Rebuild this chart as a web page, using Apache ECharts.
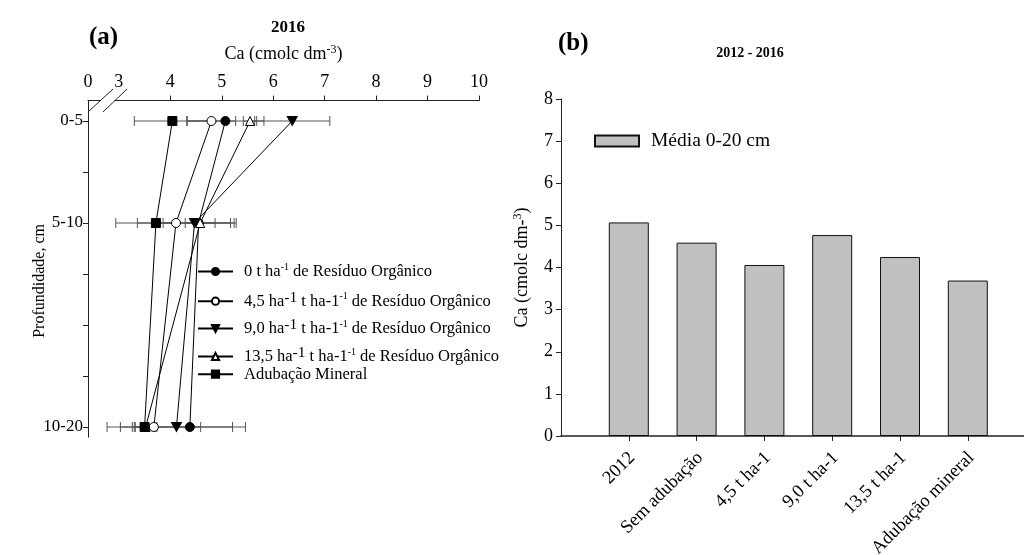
<!DOCTYPE html>
<html>
<head>
<meta charset="utf-8">
<script src="https://cdn.jsdelivr.net/npm/echarts@6/dist/echarts.min.js"></script>
<style>html,body{margin:0;padding:0;background:#fff}#c{width:1024px;height:555px}</style>
</head>
<body>
<div id="c"></div>
<script>
// ---------- Panel (a) data ----------
const depthLabels = ['0-5', '5-10', '10-20'];
const depthPos = [2.5, 7.5, 17.5];
const xTickLabels = ['0', '3', '4', '5', '6', '7', '8', '9', '10'];
const xTickValues = [2.4, 3, 4, 5, 6, 7, 8, 9, 10];
const seriesNames = [
  '0 t ha-1 de Resíduo Orgânico',
  '4,5 ha-1 t ha-1-1 de Resíduo Orgânico',
  '9,0 ha-1 t ha-1-1 de Resíduo Orgânico',
  '13,5 ha-1 t ha-1-1 de Resíduo Orgânico',
  'Adubação Mineral'
];
const ca0t = [5.07, 4.55, 4.38];
const sd0t = [0.75, 0.69, 1.08];
const ca45 = [4.80, 4.11, 3.68];
const sd45 = [0.47, 1.17, 0.91];
const ca90 = [6.37, 4.47, 4.12];
const sd90 = [0.73, 0.70, 1.09];
const ca135 = [5.55, 4.58, 3.52];
const sd135 = [0.13, 0.29, 0.20];
const caMin = [4.04, 3.72, 3.50];
const sdMin = [0.74, 0.36, 0.24];

// ---------- Panel (b) data ----------
const barCategories = ['2012', 'Sem adubação', '4,5 t ha-1', '9,0 t ha-1', '13,5 t ha-1', 'Adubação mineral'];
const barValues = [5.07, 4.59, 4.06, 4.77, 4.25, 3.69];
const barLegend = 'Média 0-20 cm';

const FONT = '"Liberation Serif", "Times New Roman", serif';
const AX = '#222';

const means = [ca0t, ca45, ca90, ca135, caMin];
const sds = [sd0t, sd45, sd90, sd135, sdMin];
const symbols = ['circle', 'circle', 'path://M0,0 L10,0 L5,9 Z', 'triangle', 'rect'];
const fills = ['#000', '#fff', '#000', '#fff', '#000'];
const legendRich = [
  '{n|0 t ha}{s|-1}{n| de Resíduo Orgânico}',
  '{n|4,5 ha}{S|-1}{n| t ha-1}{s|-1}{n| de Resíduo Orgânico}',
  '{n|9,0 ha}{S|-1}{n| t ha-1}{s|-1}{n| de Resíduo Orgânico}',
  '{n|13,5 ha}{S|-1}{n| t ha-1}{s|-1}{n| de Resíduo Orgânico}',
  '{n|Adubação Mineral}'
];
const legendCenters = [273, 300.7, 328, 356, 376.7];

const lineSeries = seriesNames.map((name, i) => ({
  name: name,
  type: 'line',
  xAxisIndex: 0, yAxisIndex: 0,
  data: means[i].map((v, j) => [v, depthPos[j]]),
  symbol: symbols[i],
  symbolSize: i === 2 ? [10, 9] : 9,
  lineStyle: { color: '#000', width: 1 },
  itemStyle: { color: fills[i], borderColor: '#000', borderWidth: 1 },
  z: 5 + i,
  animation: false
}));

const errData = [];
means.forEach((arr, i) => arr.forEach((v, j) => errData.push([v, depthPos[j], sds[i][j]])));

const errSeries = {
  type: 'custom',
  xAxisIndex: 0, yAxisIndex: 0,
  data: errData,
  encode: { x: 0, y: 1 },
  z: 2,
  silent: true,
  animation: false,
  renderItem: function (params, api) {
    const x = api.value(0), y = api.value(1), e = api.value(2);
    const p1 = api.coord([x - e, y]);
    const p2 = api.coord([x + e, y]);
    const h = 5;
    const st = { stroke: '#555', lineWidth: 1 };
    return {
      type: 'group',
      children: [
        { type: 'line', shape: { x1: p1[0], y1: p1[1], x2: p2[0], y2: p2[1] }, style: st },
        { type: 'line', shape: { x1: p1[0], y1: p1[1] - h, x2: p1[0], y2: p1[1] + h }, style: st },
        { type: 'line', shape: { x1: p2[0], y1: p2[1] - h, x2: p2[0], y2: p2[1] + h }, style: st }
      ]
    };
  }
};

const legends = seriesNames.map((name, i) => ({
  data: [name],
  left: 197,
  top: legendCenters[i] - 11,
  padding: 0,
  itemWidth: 35,
  itemHeight: 9,
  formatter: () => legendRich[i],
  selectedMode: false,
  textStyle: {
    fontFamily: FONT, color: '#000',
    padding: [0, 0, 0, 6],
    rich: {
      n: { fontFamily: FONT, fontSize: 16.5, color: '#000', lineHeight: 22 },
      s: { fontFamily: FONT, fontSize: 10, color: '#000', padding: [0, 0, 9, 0], lineHeight: 22 },
      S: { fontFamily: FONT, fontSize: 15.5, color: '#000', padding: [0, 0, 7, 0], lineHeight: 22 }
    }
  }
}));

legends.push({
  data: [barLegend],
  left: 594, top: 131,
  padding: 0,
  icon: 'rect',
  itemWidth: 44, itemHeight: 11,
  selectedMode: false,
  textStyle: { fontFamily: FONT, fontSize: 19.5, color: '#000', padding: [0, 0, 0, 7] }
});

const option = {
  animation: false,
  backgroundColor: '#fff',
  title: [
    { text: '(a)', left: 84, top: 20, textStyle: { fontFamily: FONT, fontSize: 25, fontWeight: 'bold', color: '#000' } },
    { text: '2016', left: 283, top: 14, textAlign: 'center', textStyle: { fontFamily: FONT, fontSize: 17, fontWeight: 'bold', color: '#000' } },
    { text: '(b)', left: 553, top: 26, textStyle: { fontFamily: FONT, fontSize: 25, fontWeight: 'bold', color: '#000' } },
    { text: '2012 - 2016', left: 745, top: 41, textAlign: 'center', textStyle: { fontFamily: FONT, fontSize: 14, fontWeight: 'bold', color: '#000' } }
  ],
  legend: legends,
  grid: [
    { left: 88, top: 100.6, width: 391, height: 336.6, outerBoundsMode: 'none', containLabel: false },
    { left: 561, top: 99, width: 474.6, height: 337, outerBoundsMode: 'none', containLabel: false }
  ],
  xAxis: [
    {
      gridIndex: 0, type: 'value', position: 'top', min: 2.4, max: 10,
      name: '{n|Ca (cmolc dm}{s|-3}{n|)}', nameLocation: 'middle', nameGap: 36,
      nameTextStyle: {
        rich: {
          n: { fontFamily: FONT, fontSize: 18, color: '#000' },
          s: { fontFamily: FONT, fontSize: 12, color: '#000', padding: [0, 0, 9, 0] }
        }
      },
      axisLine: { show: true, lineStyle: { color: AX, width: 1 } },
      axisTick: { show: true, inside: false, length: 5, lineStyle: { color: AX }, customValues: [4, 5, 6, 7, 8, 9, 10] },
      axisLabel: {
        customValues: xTickValues,
        formatter: v => xTickLabels[xTickValues.findIndex(t => Math.abs(t - v) < 1e-6)],
        fontFamily: FONT, fontSize: 18, color: '#000', margin: 9
      },
      splitLine: { show: false }
    },
    {
      gridIndex: 1, type: 'value', min: 0, max: 7,
      axisLine: { show: true, lineStyle: { color: AX, width: 1.5 } },
      axisTick: { show: true, length: 5, lineStyle: { color: AX }, customValues: [1, 2, 3, 4, 5, 6] },
      axisLabel: {
        customValues: [1.05, 2.05, 3.05, 4.05, 5.05, 6.05],
        formatter: v => barCategories[Math.round(v) - 1],
        rotate: 45, fontFamily: FONT, fontSize: 18.5, color: '#000', margin: 19
      },
      splitLine: { show: false }
    }
  ],
  yAxis: [
    {
      gridIndex: 0, type: 'value', inverse: true, min: 1.5, max: 18,
      name: 'Profundidade, cm', nameLocation: 'middle', nameGap: 40, nameMoveOverlap: false,
      nameTextStyle: { fontFamily: FONT, fontSize: 16, color: '#000', padding: [0, 24, 0, 0] },
      axisLine: { show: true, lineStyle: { color: AX, width: 1 } },
      axisTick: { show: true, length: 5, lineStyle: { color: AX }, customValues: [2.5, 5, 7.5, 10, 12.5, 15, 17.5] },
      axisLabel: {
        customValues: depthPos,
        formatter: v => depthLabels[depthPos.findIndex(t => Math.abs(t - v) < 1e-6)],
        fontFamily: FONT, fontSize: 17, color: '#000', margin: 5
      },
      splitLine: { show: false }
    },
    {
      gridIndex: 1, type: 'value', min: 0, max: 8, interval: 1,
      name: '{n|Ca (cmolc dm-}{s|3}{n|)}', nameLocation: 'middle', nameGap: 28,
      nameTextStyle: {
        rich: {
          n: { fontFamily: FONT, fontSize: 18, color: '#000' },
          s: { fontFamily: FONT, fontSize: 12, color: '#000', padding: [0, 0, 9, 0] }
        }
      },
      axisLine: { show: true, lineStyle: { color: AX, width: 1 } },
      axisTick: { show: true, length: 5, lineStyle: { color: AX } },
      axisLabel: { fontFamily: FONT, fontSize: 18, color: '#000', margin: 8 },
      splitLine: { show: false }
    }
  ],
  graphic: [
    { type: 'rect', z: 100, shape: { x: 100.5, y: 97, width: 14, height: 6 }, style: { fill: '#fff' } },
    { type: 'line', z: 101, shape: { x1: 88, y1: 112, x2: 113, y2: 89 }, style: { stroke: AX, lineWidth: 1 } },
    { type: 'line', z: 101, shape: { x1: 103, y1: 112, x2: 127, y2: 89 }, style: { stroke: AX, lineWidth: 1 } }
  ],
  series: [errSeries].concat(lineSeries).concat([
    {
      name: barLegend,
      type: 'bar',
      xAxisIndex: 1, yAxisIndex: 1,
      data: barValues.map((v, i) => [i + 1, v]),
      barWidth: 40,
      itemStyle: { color: '#c0c0c0', borderColor: '#111', borderWidth: 1 },
      animation: false
    }
  ])
};

const chart = echarts.init(document.getElementById('c'), null, { renderer: 'canvas' });
chart.setOption(option);
</script>
</body>
</html>
